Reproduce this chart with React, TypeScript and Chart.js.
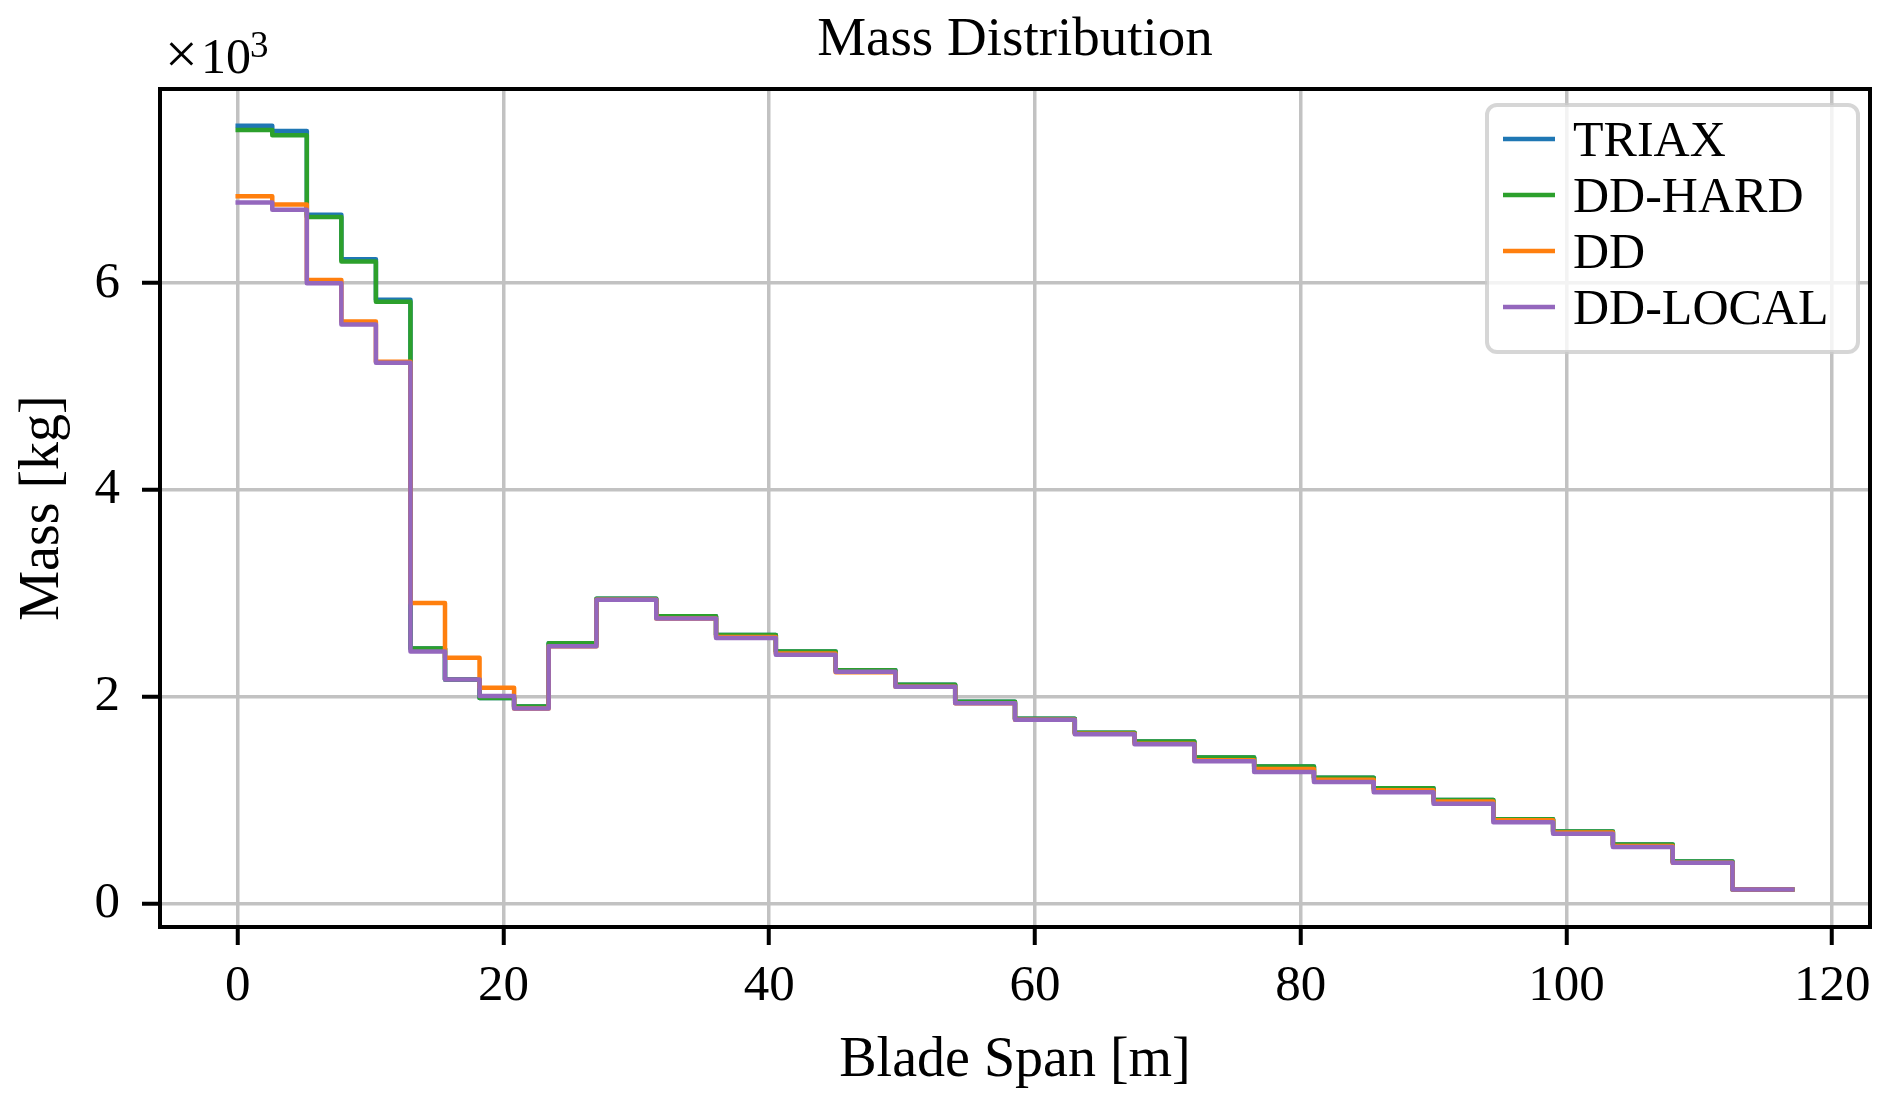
import React, { useEffect, useRef } from "react";
import { Chart, registerables } from "chart.js";

Chart.register(...registerables);

// bin edges along the blade [m]
const binEdges = [
  0, 2.6, 5.2, 7.8, 10.4, 13.0, 15.6, 18.2, 20.8, 23.4, 27.0, 31.5, 36.0, 40.5, 45.0, 49.5,
  54.0, 58.5, 63.0, 67.5, 72.0, 76.5, 81.0, 85.5, 90.0, 94.5, 99.0, 103.5, 108.0, 112.5, 117.0,
];

// mass per bin [kg]
const triaxMass = [
  7520, 7470, 6660, 6230, 5840, 2470, 2170, 1990, 1910, 2520, 2950, 2780, 2600, 2440, 2260,
  2120, 1955, 1790, 1655, 1570, 1415, 1330, 1220, 1120, 1005, 820, 700, 575, 410, 140,
];
const ddHardMass = [
  7480, 7430, 6640, 6210, 5820, 2470, 2170, 1990, 1910, 2520, 2950, 2780, 2600, 2440, 2260,
  2120, 1955, 1790, 1655, 1570, 1415, 1330, 1220, 1120, 1005, 820, 700, 575, 410, 140,
];
const ddMass = [
  6840, 6760, 6030, 5630, 5240, 2910, 2380, 2090, 1890, 2490, 2940, 2760, 2580, 2420, 2240,
  2100, 1940, 1780, 1645, 1550, 1390, 1305, 1200, 1100, 990, 810, 690, 560, 400, 140,
];
const ddLocalMass = [
  6780, 6710, 6000, 5600, 5230, 2440, 2170, 2010, 1890, 2490, 2940, 2760, 2570, 2410, 2245,
  2100, 1940, 1780, 1640, 1545, 1380, 1275, 1180, 1080, 970, 790, 680, 550, 400, 140,
];

const seriesNames = ["TRIAX", "DD-HARD", "DD", "DD-LOCAL"];
const seriesColors = ["#1f77b4", "#2ca02c", "#ff7f0e", "#9467bd"];
const seriesData = [triaxMass, ddHardMass, ddMass, ddLocalMass];

const xTickValues = [0, 20, 40, 60, 80, 100, 120];
const yTickValues = [0, 2000, 4000, 6000];

const FONT = '"Liberation Serif", "Times New Roman", serif';
const W = 1892;
const H = 1108;

const stepPoints = (vals: number[]) =>
  binEdges.map((x, i) => ({ x, y: vals[Math.min(i, vals.length - 1)] }));

const decorPlugin = {
  id: "decor",
  afterDraw(chart: any) {
    const { ctx, chartArea: a } = chart;
    const cx = (a.left + a.right) / 2;
    ctx.save();

    // axes frame
    ctx.strokeStyle = "#000";
    ctx.lineWidth = 4;
    ctx.strokeRect(a.left, a.top, a.right - a.left, a.bottom - a.top);

    ctx.fillStyle = "#000";
    ctx.textBaseline = "alphabetic";
    ctx.textAlign = "center";
    ctx.font = `55px ${FONT}`;
    ctx.fillText("Mass Distribution", cx, 55);

    ctx.font = `56px ${FONT}`;
    ctx.fillText("Blade Span [m]", cx, 1076);

    ctx.save();
    ctx.translate(58, (a.top + a.bottom) / 2);
    ctx.rotate(-Math.PI / 2);
    ctx.fillText("Mass [kg]", 0, 0);
    ctx.restore();

    // offset text (x10^3)
    ctx.textAlign = "left";
    ctx.font = `58px ${FONT}`;
    ctx.fillText("\u00d7", 165, 73);
    ctx.font = `50px ${FONT}`;
    ctx.fillText("10", 201, 73);
    const w = ctx.measureText("10").width;
    ctx.font = `37px ${FONT}`;
    ctx.fillText("3", 201 + w - 1, 57);

    // legend
    const lx = a.right - 383;
    const ly = a.top + 16;
    ctx.beginPath();
    ctx.roundRect(lx, ly, 371, 247, 10);
    ctx.fillStyle = "rgba(255,255,255,0.8)";
    ctx.fill();
    ctx.lineWidth = 4;
    ctx.strokeStyle = "rgba(204,204,204,0.8)";
    ctx.stroke();

    ctx.font = `50px ${FONT}`;
    seriesNames.forEach((name, i) => {
      const yc = ly + 34 + i * 56;
      ctx.beginPath();
      ctx.moveTo(lx + 16, yc);
      ctx.lineTo(lx + 68, yc);
      ctx.strokeStyle = seriesColors[i];
      ctx.lineWidth = 4.5;
      ctx.stroke();
      ctx.fillStyle = "#000";
      ctx.fillText(name, lx + 86, yc + 16.5);
    });

    ctx.restore();
  },
};

const App: React.FC = () => {
  const chartRef = useRef<HTMLCanvasElement | null>(null);

  useEffect(() => {
    if (!chartRef.current) return;
    const ctx = chartRef.current.getContext("2d");
    if (!ctx) return;

    const chart = new Chart(ctx, {
      type: "line",
      data: {
        datasets: seriesNames.map((name, i) => ({
          label: name,
          data: stepPoints(seriesData[i]),
          borderColor: seriesColors[i],
          borderWidth: 4.5,
          stepped: true,
          pointRadius: 0,
          fill: false,
          borderJoinStyle: "round",
          borderCapStyle: "square",
          order: seriesNames.length - i,
        })),
      },
      options: {
        animation: false,
        responsive: false,
        devicePixelRatio: 1,
        layout: { padding: { top: 89, right: 22, left: 0, bottom: 0 } },
        plugins: {
          legend: { display: false },
          title: { display: false },
          tooltip: { enabled: false },
        },
        scales: {
          x: {
            type: "linear",
            min: -5.85,
            max: 122.85,
            afterFit: (scale: any) => {
              scale.height = H - 927;
            },
            afterBuildTicks: (scale: any) => {
              scale.ticks = xTickValues.map((v) => ({ value: v }));
            },
            grid: {
              color: "#c2c2c2",
              lineWidth: 3.5,
              tickColor: "#000",
              tickLength: 18,
              tickWidth: 4,
            },
            border: { display: true, color: "#000", width: 4 },
            ticks: {
              color: "#000",
              font: { family: FONT, size: 51 },
              padding: 11,
              maxRotation: 0,
              includeBounds: false,
            },
          },
          y: {
            type: "linear",
            min: -222,
            max: 7876,
            afterFit: (scale: any) => {
              scale.width = 160;
            },
            afterBuildTicks: (scale: any) => {
              scale.ticks = yTickValues.map((v) => ({ value: v }));
            },
            grid: {
              color: "#c2c2c2",
              lineWidth: 3.5,
              tickColor: "#000",
              tickLength: 18,
              tickWidth: 4,
            },
            border: { display: true, color: "#000", width: 4 },
            ticks: {
              color: "#000",
              font: { family: FONT, size: 51 },
              padding: 22,
              includeBounds: false,
              callback: (v: any) => String(Number(v) / 1000),
            },
          },
        },
      },
      plugins: [decorPlugin],
    });

    return () => {
      chart.destroy();
    };
  }, []);

  return (
    <div
      style={{
        position: "absolute",
        left: 0,
        top: 0,
        width: W,
        height: H,
        background: "#fff",
      }}
    >
      <canvas ref={chartRef} width={W} height={H} style={{ display: "block", width: W, height: H }}></canvas>
    </div>
  );
};

export default App;
